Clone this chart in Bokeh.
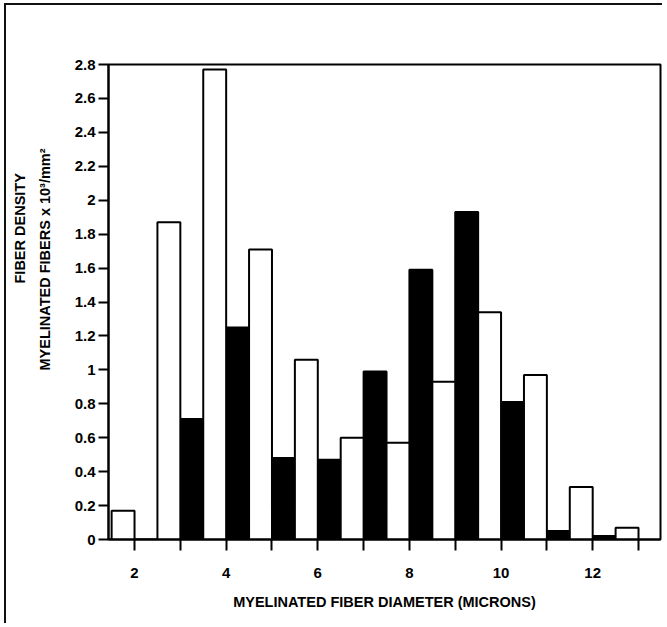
from bokeh.plotting import figure
from bokeh.models import ColumnDataSource, Range1d, FixedTicker, Title
from bokeh.transform import dodge
from bokeh.embed import file_html
from bokeh.resources import INLINE

# ---- data ----
diameters = [1, 2, 3, 4, 5, 6, 7, 8, 9, 10, 11, 12]
black_density = [0.0, 0.0, 0.71, 1.25, 0.48, 0.47, 0.99, 1.59, 1.93, 0.81, 0.05, 0.02]
white_density = [0.17, 1.87, 2.77, 1.71, 1.06, 0.60, 0.57, 0.93, 1.34, 0.97, 0.31, 0.07]
x_tick_labels = {2: "2", 4: "4", 6: "6", 8: "8", 10: "10", 12: "12"}
y_ticks = [0, 0.2, 0.4, 0.6, 0.8, 1, 1.2, 1.4, 1.6, 1.8, 2, 2.2, 2.4, 2.6, 2.8]
y_tick_labels = ["0", "0.2", "0.4", "0.6", "0.8", "1", "1.2", "1.4", "1.6", "1.8",
                 "2", "2.2", "2.4", "2.6", "2.8"]
x_title = "MYELINATED FIBER DIAMETER (MICRONS)"
y_title_1 = "FIBER DENSITY"
y_title_2 = "MYELINATED FIBERS  x  10³/mm²"

FONT = "Liberation Sans"
W, H = 658, 620
FL, FR, FT, FB = 102, 654, 59, 534   # frame edges in canvas pixels

src = ColumnDataSource(dict(d=diameters, black=black_density, white=white_density))

p = figure(width=W, height=H, output_backend="svg", toolbar_location=None,
           x_range=Range1d(1.432, 13.48), y_range=Range1d(0, 2.8),
           min_border_left=FL, min_border_right=W - FR, min_border_top=FT,
           min_border_bottom=H - FB,
           styles={"margin-left": "4px", "margin-top": "3px",
                   "border-left": "2px solid #111", "border-top": "2px solid #111"})

p.vbar(x=dodge("d", 0.25, range=p.x_range), top="black", width=0.5, bottom=0,
       source=src, fill_color="black", line_color="black", line_width=2)
p.vbar(x=dodge("d", 0.75, range=p.x_range), top="white", width=0.5, bottom=0,
       source=src, fill_color="white", line_color="black", line_width=2)

p.grid.visible = False
p.outline_line_color = "black"
p.outline_line_width = 2
p.outline_line_alpha = 1
p.background_fill_color = "white"
p.border_fill_color = "white"

xa = p.xaxis[0]
xa.ticker = FixedTicker(ticks=list(x_tick_labels.keys()), minor_ticks=[3, 5, 7, 9, 11, 13])
xa.major_label_overrides = {k: v for k, v in x_tick_labels.items()}
xa.axis_line_width = 2
xa.major_tick_line_width = 2
xa.minor_tick_line_width = 2
xa.major_tick_out = 11
xa.major_tick_in = 0
xa.minor_tick_out = 11
xa.minor_tick_in = 0
xa.major_label_standoff = 17
xa.major_label_text_font = FONT
xa.major_label_text_font_style = "bold"
xa.major_label_text_font_size = "15px"
xa.major_label_text_color = "black"
xa.axis_label = x_title
xa.axis_label_text_font = FONT
xa.axis_label_text_font_style = "bold"
xa.axis_label_text_font_size = "14.5px"
xa.axis_label_text_color = "black"
xa.axis_label_standoff = 13

ya = p.yaxis[0]
ya.ticker = FixedTicker(ticks=y_ticks, minor_ticks=[])
ya.major_label_overrides = {t: l for t, l in zip(y_ticks, y_tick_labels)}
ya.axis_line_width = 2
ya.major_tick_line_width = 2
ya.major_tick_out = 10
ya.major_tick_in = 0
ya.minor_tick_out = 0
ya.minor_tick_in = 0
ya.major_label_standoff = 3
ya.major_label_text_font = FONT
ya.major_label_text_font_style = "bold"
ya.major_label_text_font_size = "15px"
ya.major_label_text_color = "black"

# two-line y-axis title, stacked on the left side (first added sits nearest the axis)
for txt, sto, off in [(y_title_2, 37, 169), (y_title_1, -23, 256)]:
    p.add_layout(Title(text=txt, align="left", offset=off, standoff=sto,
                       text_font=FONT, text_font_style="bold", text_font_size="14.5px",
                       text_color="black"), "left")

open("out.html", "w").write(file_html(p, INLINE))
